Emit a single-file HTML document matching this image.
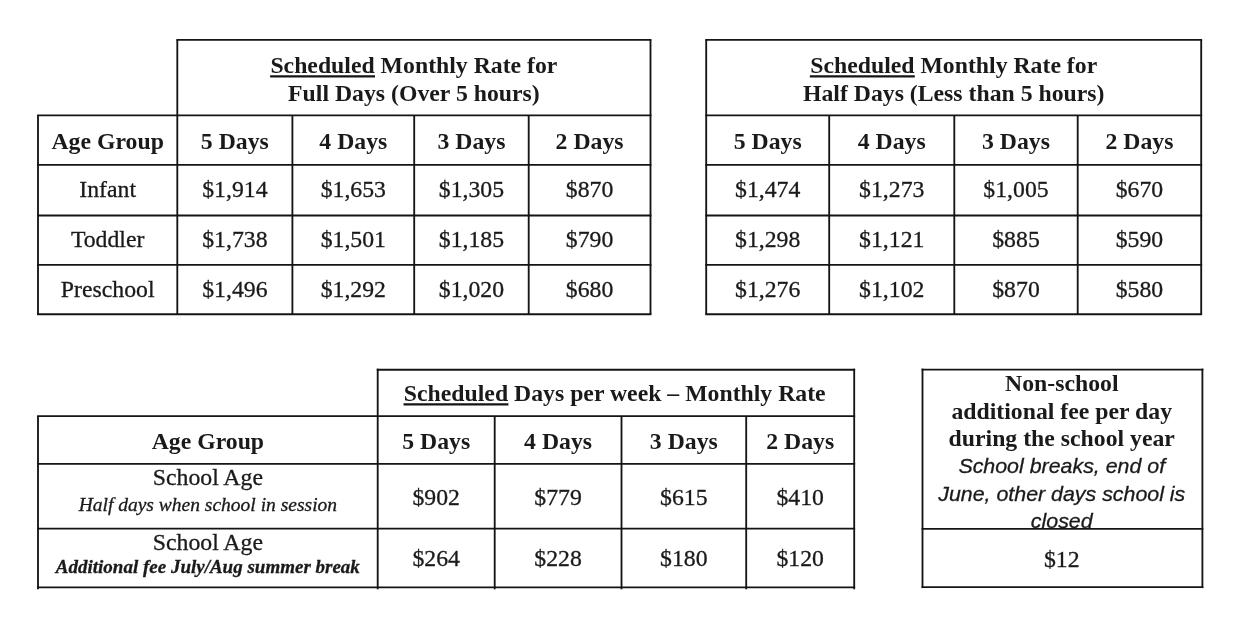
<!DOCTYPE html>
<html lang="en">
<head>
<meta charset="utf-8">
<title>Monthly Rates</title>
<style>
html,body{margin:0;padding:0;background:#fff;}
body{width:1240px;height:626px;overflow:hidden;position:relative;}
svg{position:absolute;left:0;top:0;display:block;}
text{font-family:"Liberation Serif","Times New Roman",serif;font-size:23.0px;fill:#1a1a1a;stroke:#1a1a1a;stroke-width:0.3px;text-anchor:middle;}
.b{font-weight:bold;stroke-width:0;}
.i{font-style:italic;font-size:19px;}
.bi{font-style:italic;font-weight:bold;font-size:19px;}
.si{font-family:"Liberation Sans",Arial,sans-serif;font-style:italic;font-size:20.9px;}
line{stroke:#141414;stroke-width:1.85;}
</style>
</head>
<body>
<svg width="1240" height="626" viewBox="0 0 1240 626">
<rect x="0" y="0" width="1240" height="626" fill="#ffffff"/>
<g>
<line x1="176.38" y1="39.80" x2="651.42" y2="39.80"/>
<line x1="37.08" y1="115.40" x2="651.42" y2="115.40"/>
<line x1="37.08" y1="164.90" x2="651.42" y2="164.90"/>
<line x1="37.08" y1="215.50" x2="651.42" y2="215.50"/>
<line x1="37.08" y1="264.90" x2="651.42" y2="264.90"/>
<line x1="37.08" y1="314.20" x2="651.42" y2="314.20"/>
<line x1="38.00" y1="115.40" x2="38.00" y2="314.20"/>
<line x1="177.30" y1="39.80" x2="177.30" y2="314.20"/>
<line x1="292.40" y1="115.40" x2="292.40" y2="314.20"/>
<line x1="414.20" y1="115.40" x2="414.20" y2="314.20"/>
<line x1="528.70" y1="115.40" x2="528.70" y2="314.20"/>
<line x1="650.50" y1="39.80" x2="650.50" y2="314.20"/>
<line x1="705.28" y1="39.80" x2="1202.12" y2="39.80"/>
<line x1="705.28" y1="115.40" x2="1202.12" y2="115.40"/>
<line x1="705.28" y1="164.90" x2="1202.12" y2="164.90"/>
<line x1="705.28" y1="215.50" x2="1202.12" y2="215.50"/>
<line x1="705.28" y1="264.90" x2="1202.12" y2="264.90"/>
<line x1="705.28" y1="314.20" x2="1202.12" y2="314.20"/>
<line x1="706.20" y1="39.80" x2="706.20" y2="314.20"/>
<line x1="1201.20" y1="39.80" x2="1201.20" y2="314.20"/>
<line x1="829.20" y1="115.40" x2="829.20" y2="314.20"/>
<line x1="954.30" y1="115.40" x2="954.30" y2="314.20"/>
<line x1="1077.70" y1="115.40" x2="1077.70" y2="314.20"/>
<line x1="376.77" y1="369.70" x2="855.12" y2="369.70"/>
<line x1="37.08" y1="416.10" x2="855.12" y2="416.10"/>
<line x1="37.08" y1="463.80" x2="855.12" y2="463.80"/>
<line x1="37.08" y1="528.60" x2="855.12" y2="528.60"/>
<line x1="37.08" y1="587.30" x2="855.12" y2="587.30"/>
<line x1="38.00" y1="416.10" x2="38.00" y2="589.30"/>
<line x1="377.70" y1="368.70" x2="377.70" y2="589.30"/>
<line x1="494.70" y1="416.10" x2="494.70" y2="589.30"/>
<line x1="621.50" y1="416.10" x2="621.50" y2="589.30"/>
<line x1="746.20" y1="416.10" x2="746.20" y2="589.30"/>
<line x1="854.20" y1="368.70" x2="854.20" y2="589.30"/>
<line x1="921.58" y1="369.60" x2="1203.33" y2="369.60"/>
<line x1="921.58" y1="528.80" x2="1203.33" y2="528.80"/>
<line x1="921.58" y1="587.10" x2="1203.33" y2="587.10"/>
<line x1="922.50" y1="368.60" x2="922.50" y2="588.10"/>
<line x1="1202.40" y1="368.60" x2="1202.40" y2="588.10"/>
</g>
<g>
<text class="b" transform="translate(413.90 72.70) scale(1.033 1)"><tspan class="u">Scheduled</tspan> Monthly Rate for</text>
<text class="b" transform="translate(413.90 100.85) scale(1.033 1)">Full Days (Over 5 hours)</text>
<text class="b" transform="translate(107.65 148.70) scale(1.033 1)">Age Group</text>
<text class="b" transform="translate(234.85 148.70) scale(1.033 1)">5 Days</text>
<text class="b" transform="translate(353.30 148.70) scale(1.033 1)">4 Days</text>
<text class="b" transform="translate(471.45 148.70) scale(1.033 1)">3 Days</text>
<text class="b" transform="translate(589.60 148.70) scale(1.033 1)">2 Days</text>
<text class="r" transform="translate(107.65 197.40) scale(1.033 1)">Infant</text>
<text class="r" transform="translate(234.85 197.40) scale(1.033 1)">$1,914</text>
<text class="r" transform="translate(353.30 197.40) scale(1.033 1)">$1,653</text>
<text class="r" transform="translate(471.45 197.40) scale(1.033 1)">$1,305</text>
<text class="r" transform="translate(589.60 197.40) scale(1.033 1)">$870</text>
<text class="r" transform="translate(107.65 247.40) scale(1.033 1)">Toddler</text>
<text class="r" transform="translate(234.85 247.40) scale(1.033 1)">$1,738</text>
<text class="r" transform="translate(353.30 247.40) scale(1.033 1)">$1,501</text>
<text class="r" transform="translate(471.45 247.40) scale(1.033 1)">$1,185</text>
<text class="r" transform="translate(589.60 247.40) scale(1.033 1)">$790</text>
<text class="r" transform="translate(107.65 296.75) scale(1.033 1)">Preschool</text>
<text class="r" transform="translate(234.85 296.75) scale(1.033 1)">$1,496</text>
<text class="r" transform="translate(353.30 296.75) scale(1.033 1)">$1,292</text>
<text class="r" transform="translate(471.45 296.75) scale(1.033 1)">$1,020</text>
<text class="r" transform="translate(589.60 296.75) scale(1.033 1)">$680</text>
<text class="b" transform="translate(953.70 72.70) scale(1.033 1)"><tspan class="u">Scheduled</tspan> Monthly Rate for</text>
<text class="b" transform="translate(953.70 100.85) scale(1.033 1)">Half Days (Less than 5 hours)</text>
<text class="b" transform="translate(767.70 148.70) scale(1.033 1)">5 Days</text>
<text class="b" transform="translate(891.75 148.70) scale(1.033 1)">4 Days</text>
<text class="b" transform="translate(1016.00 148.70) scale(1.033 1)">3 Days</text>
<text class="b" transform="translate(1139.45 148.70) scale(1.033 1)">2 Days</text>
<text class="r" transform="translate(767.70 197.40) scale(1.033 1)">$1,474</text>
<text class="r" transform="translate(891.75 197.40) scale(1.033 1)">$1,273</text>
<text class="r" transform="translate(1016.00 197.40) scale(1.033 1)">$1,005</text>
<text class="r" transform="translate(1139.45 197.40) scale(1.033 1)">$670</text>
<text class="r" transform="translate(767.70 247.40) scale(1.033 1)">$1,298</text>
<text class="r" transform="translate(891.75 247.40) scale(1.033 1)">$1,121</text>
<text class="r" transform="translate(1016.00 247.40) scale(1.033 1)">$885</text>
<text class="r" transform="translate(1139.45 247.40) scale(1.033 1)">$590</text>
<text class="r" transform="translate(767.70 296.75) scale(1.033 1)">$1,276</text>
<text class="r" transform="translate(891.75 296.75) scale(1.033 1)">$1,102</text>
<text class="r" transform="translate(1016.00 296.75) scale(1.033 1)">$870</text>
<text class="r" transform="translate(1139.45 296.75) scale(1.033 1)">$580</text>
<text class="b" transform="translate(614.75 400.70) scale(1.033 1)"><tspan class="u">Scheduled</tspan> Days per week – Monthly Rate</text>
<text class="b" transform="translate(207.85 449.20) scale(1.033 1)">Age Group</text>
<text class="b" transform="translate(436.20 449.20) scale(1.033 1)">5 Days</text>
<text class="b" transform="translate(558.10 449.20) scale(1.033 1)">4 Days</text>
<text class="b" transform="translate(683.85 449.20) scale(1.033 1)">3 Days</text>
<text class="b" transform="translate(800.20 449.20) scale(1.033 1)">2 Days</text>
<text class="r" transform="translate(207.85 485.40) scale(1.033 1)">School Age</text>
<text class="i" transform="translate(207.85 510.70) scale(1.027 1)">Half days when school in session</text>
<text class="r" transform="translate(207.85 549.50) scale(1.033 1)">School Age</text>
<text class="bi" transform="translate(207.85 573.40) scale(1.0 1)">Additional fee July/Aug summer break</text>
<text class="r" transform="translate(436.20 504.65) scale(1.033 1)">$902</text>
<text class="r" transform="translate(558.10 504.65) scale(1.033 1)">$779</text>
<text class="r" transform="translate(683.85 504.65) scale(1.033 1)">$615</text>
<text class="r" transform="translate(800.20 504.65) scale(1.033 1)">$410</text>
<text class="r" transform="translate(436.20 566.35) scale(1.033 1)">$264</text>
<text class="r" transform="translate(558.10 566.35) scale(1.033 1)">$228</text>
<text class="r" transform="translate(683.85 566.35) scale(1.033 1)">$180</text>
<text class="r" transform="translate(800.20 566.35) scale(1.033 1)">$120</text>
<text class="b" transform="translate(1061.75 391.20) scale(1.033 1)">Non-school</text>
<text class="b" transform="translate(1061.75 419.20) scale(1.033 1)">additional fee per day</text>
<text class="b" transform="translate(1061.75 446.00) scale(1.033 1)">during the school year</text>
<text class="si" transform="translate(1061.75 472.80) scale(1.0235 1)">School breaks, end of</text>
<text class="si" transform="translate(1061.75 501.10) scale(1.0235 1)">June, other days school is</text>
<text class="si" transform="translate(1061.75 527.90) scale(1.0235 1)">closed</text>
<text class="r" transform="translate(1061.75 566.60) scale(1.033 1)">$12</text>
</g>
<g id="ul"><line x1="270.10" y1="76.30" x2="374.98" y2="76.30" style="stroke-width:2.3"/>
<line x1="809.90" y1="76.30" x2="914.78" y2="76.30" style="stroke-width:2.3"/>
<line x1="403.54" y1="404.30" x2="508.42" y2="404.30" style="stroke-width:2.3"/></g>
</svg>
</body>
</html>
